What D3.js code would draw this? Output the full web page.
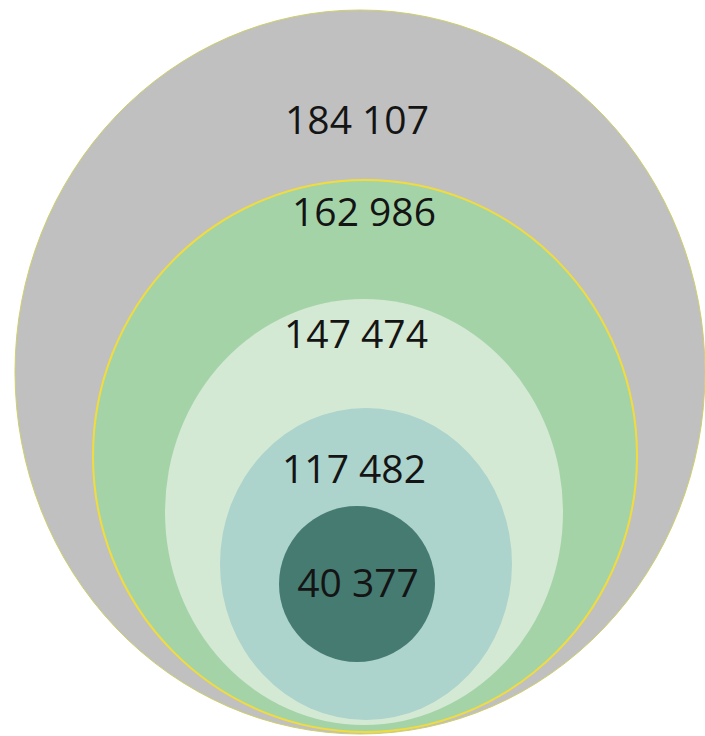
<!DOCTYPE html>
<html>
<head>
<meta charset="utf-8">
<script src="https://cdn.jsdelivr.net/npm/d3@7"></script>
<style>
    body { margin: 0; background: #ffffff; }
    svg { display: block; }
</style>
</head>
<body>
<svg id="drawing_region"></svg>
<script>
// values, outermost first
const labels = ["184 107", "162 986", "147 474", "117 482", "40 377"];
const values = [184107, 162986, 147474, 117482, 40377];
const fills  = ["#c0c0c0", "#a5d3a8", "#d4e9d3", "#acd3cc", "#467b72"];

// the nested shapes are not drawn to scale in the original,
// so the scales map each value onto the measured radii
const rxRange = [345, 272, 199, 146, 78];
const ryRange = [362, 276, 213, 156, 78];
// where each shape sits (centre) and where its label baseline is
const cxRange = [360, 365, 364, 366, 357];
const cyRange = [372, 456, 512, 564, 584];
const labelX  = [357, 364, 356, 354, 358];
const labelY  = [134, 226, 348, 483, 597];

const config = {
    parent: '#drawing_region',
    width: 705,
    height: 736
};

const svg = d3.select(config.parent)
    .attr('width', config.width)
    .attr('height', config.height);

const rx = d3.scaleLinear().domain(values).range(rxRange);
const ry = d3.scaleLinear().domain(values).range(ryRange);
const cx = d3.scaleOrdinal().domain(values).range(cxRange);
const cy = d3.scaleOrdinal().domain(values).range(cyRange);
const tx = d3.scaleOrdinal().domain(values).range(labelX);
const ty = d3.scaleOrdinal().domain(values).range(labelY);
const color = d3.scaleOrdinal().domain(values).range(fills);

const data = values.map((v, i) => ({ value: v, label: labels[i] }));

svg.selectAll('ellipse')
    .data(data)
    .enter()
    .append('ellipse')
    .attr('cx', d => cx(d.value))
    .attr('cy', d => cy(d.value))
    .attr('rx', d => rx(d.value))
    .attr('ry', d => ry(d.value))
    .style('fill', d => color(d.value))
    .style('stroke', (d, i) => i == 0 ? '#cfcf6a' : (i == 1 ? '#f2dc3c' : 'none'))
    .style('stroke-width', (d, i) => i == 1 ? 2 : 1);

svg.selectAll('text')
    .data(data)
    .enter()
    .append('text')
    .attr('x', d => tx(d.value))
    .attr('y', d => ty(d.value))
    .attr('text-anchor', 'middle')
    .attr('font-family', "'Open Sans', sans-serif")
    .attr('font-size', '39px')
    .style('fill', '#141414')
    .text(d => d.label);
</script>
</body>
</html>
